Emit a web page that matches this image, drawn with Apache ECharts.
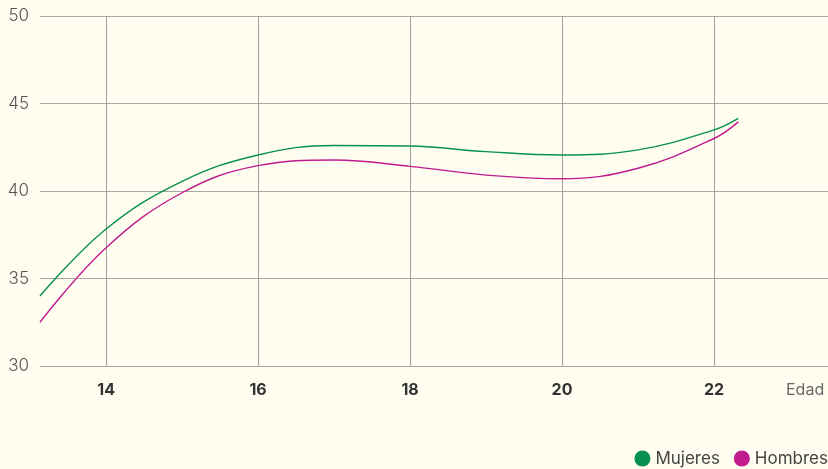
<!DOCTYPE html>
<html>
<head>
<meta charset="utf-8">
<script src="https://cdn.jsdelivr.net/npm/echarts@6/dist/echarts.min.js"></script>
<style>
  html, body { margin: 0; padding: 0; background: #fffdef; }
  #graph { width: 828px; height: 469px; }
</style>
</head>
<body>
<div id="graph"></div>
<script>
// data
var ages = [13.13, 14, 15, 16, 17, 18, 19, 20, 21, 22, 22.32];
var mujeres = [34.0, 37.83, 40.55, 42.06, 42.6, 42.57, 42.25, 42.06, 42.35, 43.49, 44.15];
var hombres = [32.5, 36.76, 39.9, 41.45, 41.77, 41.41, 40.91, 40.7, 41.3, 43.0, 43.95];
var xTicks = [14, 16, 18, 20, 22];

function pairs(xs, ys) {
  return xs.map(function (x, i) { return [x, ys[i]]; });
}

var myChart = echarts.init(document.getElementById('graph'));

var option = {
  backgroundColor: '#fffdef',
  textStyle: { fontFamily: 'Inter' },
  grid: { left: 40, right: 0, top: 16, bottom: 103 },
  legend: {
    right: 0,
    bottom: 2,
    padding: 0,
    icon: 'circle',
    itemWidth: 16,
    itemHeight: 16,
    itemGap: 14,
    textStyle: { fontSize: 17, color: '#444' },
    data: ['Mujeres', 'Hombres']
  },
  xAxis: {
    type: 'value',
    min: 13.13,
    max: 23.5,
    name: 'Edad',
    nameLocation: 'end',
    nameGap: -42,
    nameTextStyle: { fontSize: 16, color: '#666', verticalAlign: 'top', padding: [16, 0, 0, 0] },
    axisLine: { show: false },
    axisTick: { show: false, customValues: xTicks },
    axisLabel: { customValues: xTicks, margin: 16, fontSize: 16, fontWeight: 'bold', color: '#333' },
    splitLine: { show: true, lineStyle: { color: '#a0a0a0', width: 1 } }
  },
  yAxis: {
    type: 'value',
    min: 30,
    max: 50,
    interval: 5,
    axisLine: { show: false },
    axisTick: { show: false },
    axisLabel: { margin: 11, fontSize: 17, fontWeight: 300, color: '#555' },
    splitLine: { lineStyle: { color: '#a8a8a8', width: 1 } }
  },
  series: [
    {
      name: 'Mujeres',
      type: 'line',
      smooth: 0.4,
      showSymbol: false,
      color: '#07904f',
      lineStyle: { width: 1.4 },
      data: pairs(ages, mujeres)
    },
    {
      name: 'Hombres',
      type: 'line',
      smooth: 0.4,
      showSymbol: false,
      color: '#c01a8f',
      lineStyle: { width: 1.4 },
      data: pairs(ages, hombres)
    }
  ]
};
myChart.setOption(option);
</script>
</body>
</html>
